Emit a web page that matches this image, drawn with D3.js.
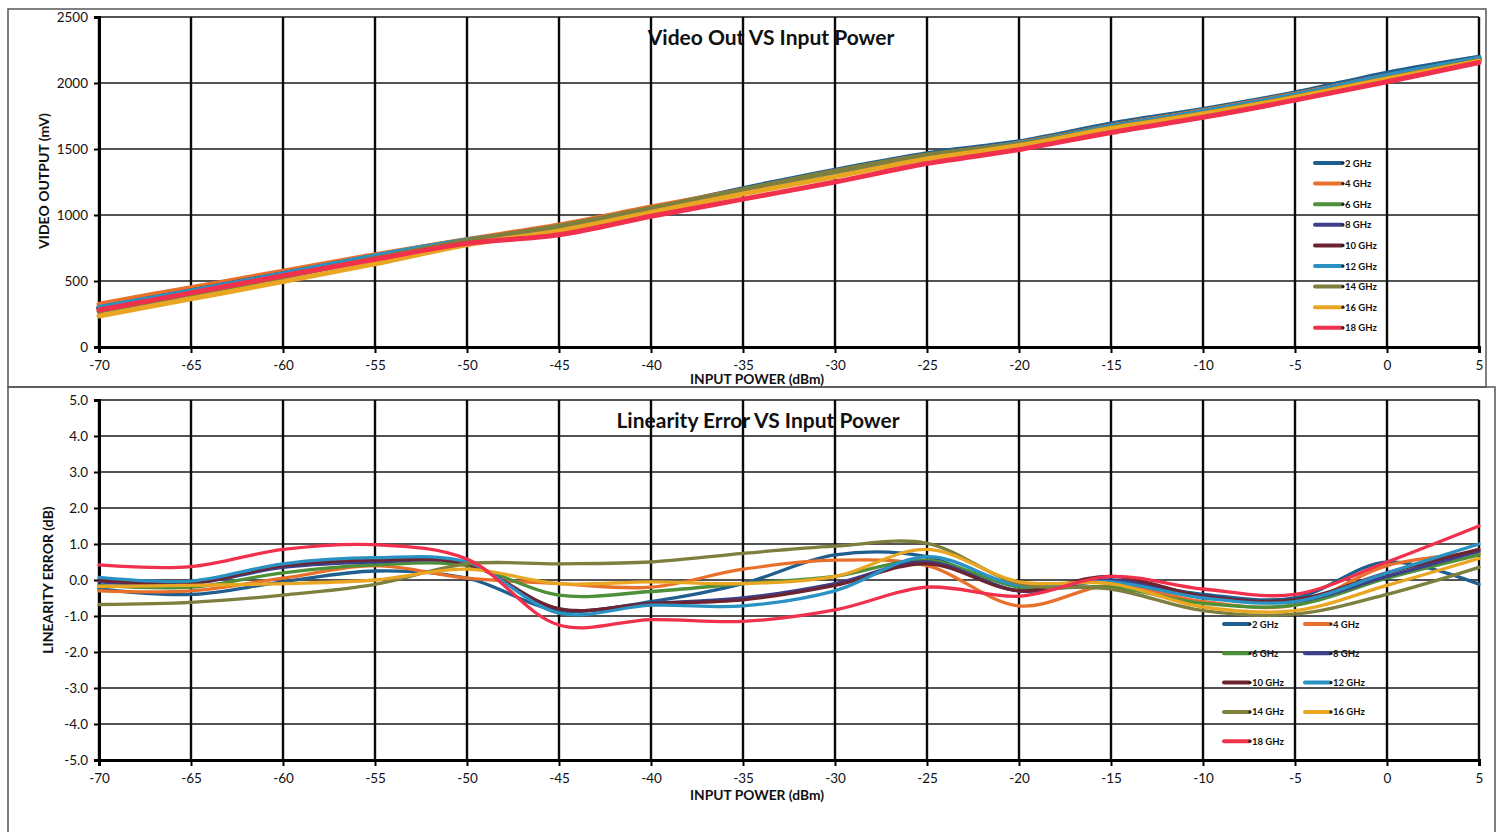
<!DOCTYPE html>
<html>
<head>
<meta charset="utf-8">
<script src="https://cdn.jsdelivr.net/npm/d3@7"></script>
<style>
  html, body { margin: 0; padding: 0; background: #fff; }
  svg { display: block; }
  text { font-family: Lato, "Open Sans", sans-serif; fill: #111; }
</style>
</head>
<body>
<svg id="chart" width="1496" height="832"></svg>
<script>
// ---------------- DATA ----------------
const inputPower = [-70,-65,-60,-55,-50,-45,-40,-35,-30,-25,-20,-15,-10,-5,0,5];
const seriesNames = ["2 GHz","4 GHz","6 GHz","8 GHz","10 GHz","12 GHz","14 GHz","16 GHz","18 GHz"];
const seriesColors = ["#1f5f8f","#e8702a","#4e8f3a","#3c3f8a","#6e2430","#2a92c2","#7d7f3e","#e9a623","#f0304c"];

// Video output (mV)
const vout2  = [300,425,555,690,810,905,1050,1200,1340,1465,1555,1690,1800,1925,2075,2195];
const vout4  = [325,450,575,700,815,925,1060,1190,1330,1450,1545,1675,1790,1915,2055,2185];
const vout6  = [290,420,550,680,800,900,1040,1185,1315,1445,1540,1670,1780,1905,2045,2175];
const vout8  = [295,420,550,685,805,895,1035,1180,1310,1440,1535,1665,1780,1905,2050,2180];
const vout10 = [295,425,555,685,805,895,1035,1180,1310,1440,1535,1670,1780,1905,2050,2180];
const vout12 = [300,425,555,690,810,895,1035,1175,1305,1445,1540,1670,1785,1910,2055,2185];
const vout14 = [270,400,530,670,805,915,1050,1190,1330,1455,1535,1660,1770,1895,2035,2170];
const vout16 = [235,365,495,630,775,880,1020,1160,1290,1425,1525,1655,1765,1890,2030,2165];
const vout18 = [280,410,540,665,785,850,990,1120,1250,1390,1495,1625,1740,1870,2010,2155];

// Linearity error (dB)
const lin2  = [-0.25,-0.40,-0.05,0.25,0.05,-0.85,-0.60,-0.10,0.70,0.65,-0.30,-0.02,-0.40,-0.50,0.50,-0.12];
const lin4  = [-0.30,-0.30,0.05,0.40,0.05,-0.10,-0.20,0.30,0.55,0.40,-0.72,-0.15,-0.60,-0.70,0.40,0.75];
const lin6  = [-0.15,-0.20,0.20,0.42,0.40,-0.42,-0.32,-0.10,0.10,0.55,-0.20,-0.20,-0.65,-0.70,0.05,0.70];
const lin8  = [-0.05,-0.10,0.35,0.50,0.45,-0.80,-0.65,-0.50,-0.10,0.50,-0.30,0.00,-0.45,-0.60,0.10,0.80];
const lin10 = [0.00,-0.08,0.40,0.55,0.45,-0.80,-0.65,-0.55,-0.15,0.45,-0.30,0.10,-0.45,-0.55,0.20,0.85];
const lin12 = [0.07,-0.03,0.45,0.62,0.50,-0.92,-0.70,-0.72,-0.30,0.65,-0.15,-0.05,-0.50,-0.60,0.20,1.00];
const lin14 = [-0.68,-0.62,-0.42,-0.12,0.45,0.45,0.50,0.74,0.94,1.02,-0.10,-0.25,-0.85,-0.95,-0.40,0.35];
const lin16 = [-0.18,-0.15,-0.10,0.00,0.30,-0.10,-0.05,-0.10,0.10,0.85,-0.05,-0.10,-0.75,-0.85,-0.15,0.60];
const lin18 = [0.42,0.37,0.85,0.98,0.58,-1.25,-1.10,-1.15,-0.83,-0.20,-0.45,0.10,-0.25,-0.40,0.50,1.50];

const xTicks = [-70,-65,-60,-55,-50,-45,-40,-35,-30,-25,-20,-15,-10,-5,0,5];
const voutTicks = [0,500,1000,1500,2000,2500];
const linTicks = [-5,-4,-3,-2,-1,0,1,2,3,4,5];

const voutSeries = [vout2,vout4,vout6,vout8,vout10,vout12,vout14,vout16,vout18];
const linSeries = [lin2,lin4,lin6,lin8,lin10,lin12,lin14,lin16,lin18];

// ---------------- DRAW ----------------
const svg = d3.select("#chart");
const hyphen = f => (d => f(d).replace("\u2212","-"));

// frames
svg.append("rect").attr("x",8).attr("y",9).attr("width",1478).attr("height",378)
  .attr("fill","none").attr("stroke","#555").attr("stroke-width",1.5);
svg.append("rect").attr("x",8).attr("y",387).attr("width",1487).attr("height",460)
  .attr("fill","none").attr("stroke","#555").attr("stroke-width",1.5);

function panel(opts) {
  const g = svg.append("g");
  const x = d3.scaleLinear().domain([-70,5]).range([99,1479]);
  const y = d3.scaleLinear().domain(opts.yDomain).range(opts.yRange);

  // title (drawn under the grid, as in the source)
  g.append("text").attr("x",opts.titleX).attr("y",opts.titleY)
    .attr("text-anchor","middle").attr("font-size",opts.titleSize).attr("font-weight",700)
    .text(opts.title);

  // horizontal grid
  g.append("g").selectAll("line").data(opts.yTicks).join("line")
    .attr("x1",x(-70)).attr("x2",x(5))
    .attr("y1",d=>y(d)).attr("y2",d=>y(d))
    .attr("stroke","#1a1a1a").attr("stroke-width",1.4);
  // vertical grid
  g.append("g").selectAll("line").data(xTicks).join("line")
    .attr("x1",d=>x(d)).attr("x2",d=>x(d))
    .attr("y1",opts.yRange[0]).attr("y2",opts.yRange[1])
    .attr("stroke","#0a0a0a").attr("stroke-width",2.4);

  // axes
  const xAxis = d3.axisBottom(x).tickValues(xTicks).tickSize(6).tickPadding(7).tickFormat(hyphen(d3.format("d")));
  const xg = g.append("g").attr("transform",`translate(0,${opts.yRange[0]})`).call(xAxis);
  const yAxis = d3.axisLeft(y).tickValues(opts.yTicks).tickSize(5).tickPadding(6).tickFormat(hyphen(opts.yFormat));
  const yg = g.append("g").attr("transform",`translate(${x(-70)},0)`).call(yAxis);
  [xg,yg].forEach(a=>{
    a.select(".domain").attr("stroke","#000").attr("stroke-width",3);
    a.selectAll(".tick line").attr("stroke","#000").attr("stroke-width",2);
    a.selectAll(".tick text").attr("font-size",13.5).attr("fill","#111")
      .style("font-family","Lato, 'Open Sans', sans-serif");
  });

  // axis titles
  g.append("text").attr("x",757).attr("y",opts.xLabelY).attr("text-anchor","middle")
    .attr("font-size",13.8).attr("font-weight",700).text("INPUT POWER (dBm)");
  g.append("text").attr("transform",`translate(${opts.yLabelX},${opts.yLabelY}) rotate(-90)`)
    .attr("text-anchor","middle").attr("font-size",14).attr("font-weight",700).text(opts.yLabel);

  // lines
  const line = d3.line().x((d,i)=>x(inputPower[i])).y(d=>y(d)).curve(d3.curveCatmullRom.alpha(0.5));
  g.append("g").selectAll("path").data(opts.series).join("path")
    .attr("d",d=>line(d)).attr("fill","none")
    .attr("stroke",(d,i)=>seriesColors[i]).attr("stroke-width",opts.lineWidth)
    .attr("stroke-linejoin","round").attr("stroke-linecap","round");

  // legend
  const lg = g.append("g");
  seriesNames.forEach((name,i)=>{
    const p = opts.legendPos(i);
    lg.append("line").attr("x1",p[0]).attr("x2",p[0]+opts.legendLen).attr("y1",p[1]).attr("y2",p[1])
      .attr("stroke",seriesColors[i]).attr("stroke-width",4).attr("stroke-linecap","round");
    lg.append("circle").attr("cx",p[0]+opts.legendLen+1).attr("cy",p[1]).attr("r",1.6).attr("fill","#222");
    lg.append("text").attr("x",p[0]+opts.legendLen+3).attr("y",p[1]+3.5)
      .attr("font-size",opts.legendFont).attr("font-weight",700).attr("fill","#222").text(name);
  });
}

panel({
  yDomain:[0,2500], yRange:[347,17], yTicks:voutTicks, yFormat:d3.format("d"),
  title:"Video Out VS Input Power", titleX:771, titleY:45, titleSize:21,
  xLabelY:384, yLabel:"VIDEO OUTPUT (mV)", yLabelX:49, yLabelY:181,
  series:voutSeries, lineWidth:5,
  legendLen:27, legendFont:9.5,
  legendPos:i=>[1315, 163 + i*20.6]
});

panel({
  yDomain:[-5,5], yRange:[760,400], yTicks:linTicks, yFormat:d3.format(".1f"),
  title:"Linearity Error VS Input Power", titleX:758, titleY:428, titleSize:21,
  xLabelY:800, yLabel:"LINEARITY ERROR (dB)", yLabelX:53, yLabelY:580,
  series:linSeries, lineWidth:3.3,
  legendLen:25, legendFont:9.5,
  legendPos:i=>[1224 + (i%2)*81, 624 + Math.floor(i/2)*29.3]
});
</script>
</body>
</html>
